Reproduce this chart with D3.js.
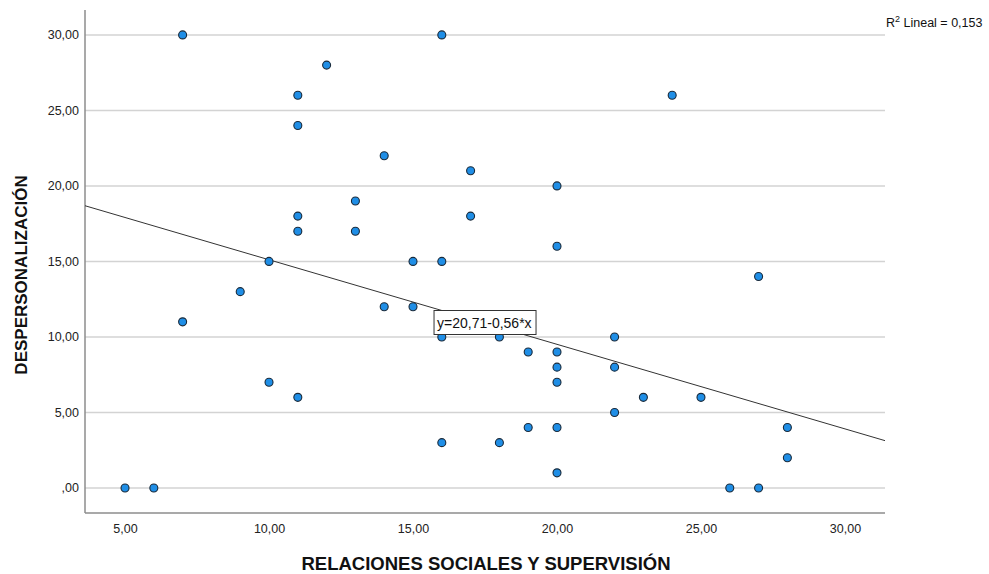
<!DOCTYPE html>
<html>
<head>
<meta charset="utf-8">
<script src="https://cdn.jsdelivr.net/npm/d3@7"></script>
<style>
  body { margin: 0; background: #fff; }
  text { font-family: "Liberation Sans", Arial, sans-serif; }
</style>
</head>
<body>
<script>
// data
let relaciones = [7, 16, 12, 11, 24, 11, 14, 17, 20, 11, 13, 17, 11, 13, 20, 10, 15, 16, 27, 9,
  7, 14, 15, 16, 18, 22, 19, 20, 20, 22, 10, 20, 11, 23, 25, 22, 19, 20, 28, 16,
  18, 28, 20, 5, 6, 26, 27];
let despersonalizacion = [30, 30, 28, 26, 26, 24, 22, 21, 20, 18, 19, 18, 17, 17, 16, 15, 15, 15, 14, 13,
  11, 12, 12, 10, 10, 10, 9, 9, 8, 8, 7, 7, 6, 6, 6, 5, 4, 4, 4, 3,
  3, 2, 1, 0, 0, 0, 0];
let xTicks = [5, 10, 15, 20, 25, 30];
let yTicks = [0, 5, 10, 15, 20, 25, 30];
let intercept = 20.71;
let slope = -0.56;
let r2Label = '0,153';
let eqLabel = 'y=20,71-0,56*x';

let svg = d3.select('body')
  .append('svg')
  .attr('width', 989)
  .attr('height', 574);

let plotLeft = 85, plotRight = 885, plotTop = 10, plotBottom = 513;

let x = d3.scaleLinear().domain([3.61, 31.39]).range([plotLeft, plotRight]);
let y = d3.scaleLinear().domain([-1.66, 31.65]).range([plotBottom, plotTop]);

let fmt = v => v === 0 ? ',00' : d3.format('.2f')(v).replace('.', ',');

// gridlines
svg.append('g')
  .selectAll('line').data(yTicks)
  .enter().append('line')
  .attr('x1', plotLeft)
  .attr('x2', plotRight)
  .attr('y1', d => y(d))
  .attr('y2', d => y(d))
  .attr('stroke', '#d3d3d3')
  .attr('stroke-width', 1.5);

// axes
let yAxis = svg.append('g')
  .attr('transform', `translate(${plotLeft},0)`)
  .call(d3.axisLeft(y).tickValues(yTicks).tickFormat(fmt).tickSize(0).tickPadding(6));
let xAxis = svg.append('g')
  .attr('transform', `translate(0,${plotBottom})`)
  .call(d3.axisBottom(x).tickValues(xTicks).tickFormat(fmt).tickSize(0).tickPadding(11));

[xAxis, yAxis].forEach(g => {
  g.select('.domain').attr('stroke', '#8c8c8c').attr('stroke-width', 1.5);
  g.selectAll('text')
    .attr('font-family', '"Liberation Sans", Arial, sans-serif')
    .attr('font-size', 12.5)
    .attr('fill', '#222');
});
yAxis.select('.domain').attr('d', `M0,${plotTop}V${plotBottom}`);
xAxis.select('.domain').attr('d', `M${plotLeft},0H${plotRight}`);

// regression line
let xd = x.domain();
svg.append('line')
  .attr('x1', x(xd[0]))
  .attr('y1', y(intercept + slope * xd[0]))
  .attr('x2', x(xd[1]))
  .attr('y2', y(intercept + slope * xd[1]))
  .attr('stroke', '#333')
  .attr('stroke-width', 1);

// points
let points = relaciones.map((v, i) => ({ x: v, y: despersonalizacion[i] }));
svg.append('g')
  .selectAll('circle').data(points)
  .enter().append('circle')
  .attr('cx', d => x(d.x))
  .attr('cy', d => y(d.y))
  .attr('r', 4)
  .attr('fill', '#1f8ee6')
  .attr('stroke', '#1a2a3a')
  .attr('stroke-width', 1.1);

// equation label
let eq = svg.append('g')
  .attr('transform', `translate(${x(15.73)},${y(11.75)})`);
eq.append('rect')
  .attr('width', 102)
  .attr('height', 24)
  .attr('fill', '#fff')
  .attr('stroke', '#333')
  .attr('stroke-width', 1);
eq.append('text')
  .attr('x', 3)
  .attr('y', 17)
  .attr('font-size', 14)
  .attr('fill', '#111')
  .text(eqLabel);

// R2 label
let r2 = svg.append('text')
  .attr('x', 886)
  .attr('y', 27)
  .attr('font-size', 12.5)
  .attr('fill', '#111');
r2.append('tspan').text('R');
r2.append('tspan').attr('dy', -5).attr('font-size', 9).text('2');
r2.append('tspan').attr('dy', 5).text(' Lineal = ' + r2Label);

// axis titles
svg.append('text')
  .attr('x', 486)
  .attr('y', 570)
  .attr('text-anchor', 'middle')
  .attr('font-size', 18.5)
  .attr('font-weight', 'bold')
  .attr('fill', '#111')
  .text('RELACIONES SOCIALES Y SUPERVISIÓN');

svg.append('text')
  .attr('transform', 'translate(27,275) rotate(-90)')
  .attr('text-anchor', 'middle')
  .attr('font-size', 17)
  .attr('font-weight', 'bold')
  .attr('fill', '#111')
  .text('DESPERSONALIZACIÓN');
</script>
</body>
</html>
